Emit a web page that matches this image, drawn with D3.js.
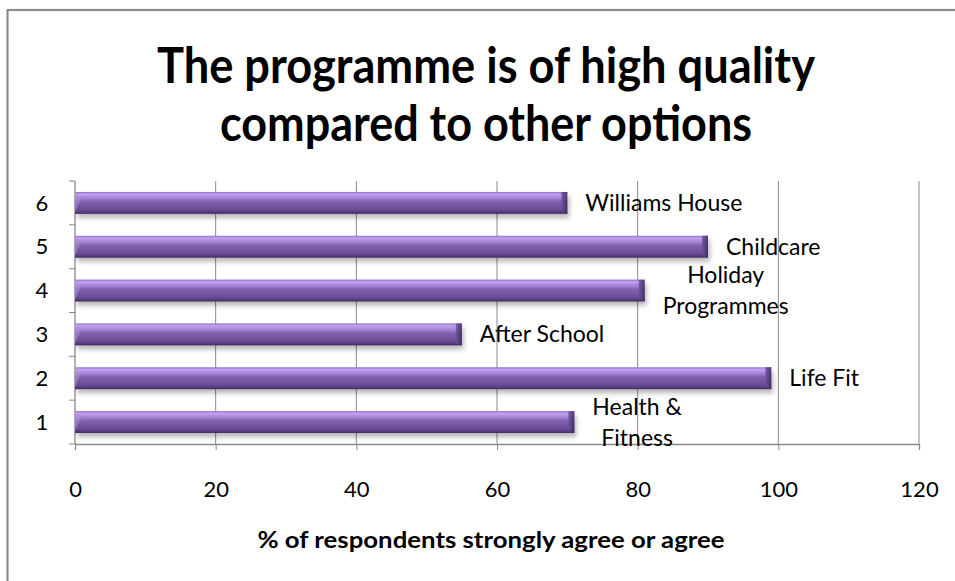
<!DOCTYPE html>
<html>
<head>
<meta charset="utf-8">
<script src="https://cdn.jsdelivr.net/npm/d3@7"></script>
<style>
  html, body { margin: 0; padding: 0; background: #fff; }
  svg { display: block; }
</style>
</head>
<body>
<script>
// ---- data ----
const categories = ["1", "2", "3", "4", "5", "6"];
const values = [71, 99, 55, 81, 90, 70];
const labelLines = [
  ["Health &", "Fitness"],
  ["Life Fit"],
  ["After School"],
  ["Holiday", "Programmes"],
  ["Childcare"],
  ["Williams House"]
];
const xTicks = [0, 20, 40, 60, 80, 100, 120];
const titleLines = ["The programme is of high quality", "compared to other options"];
const xAxisTitle = "% of respondents strongly agree or agree";

// ---- layout ----
const W = 955, H = 581;
const plot = { left: 75, right: 919, top: 181, bottom: 444 };
const FONT = "Lato, 'Open Sans', sans-serif";

const svg = d3.select("body").append("svg").attr("width", W).attr("height", H);

const defs = svg.append("defs");
const grad = defs.append("linearGradient").attr("id", "barGrad")
  .attr("x1", 0).attr("y1", 0).attr("x2", 0).attr("y2", 1);
[[0, "#8e6cc0"], [0.1, "#c3a2f2"], [0.28, "#a283d4"], [0.45, "#8060ae"],
 [0.8, "#6b4d96"], [0.92, "#553b7c"], [1, "#3f2b5e"]].forEach(([o, c]) =>
  grad.append("stop").attr("offset", o).attr("stop-color", c));
const capGrad = defs.append("linearGradient").attr("id", "capGrad")
  .attr("x1", 0).attr("y1", 0).attr("x2", 1).attr("y2", 0);
[[0, "#6f53a0"], [1, "#3b2858"]].forEach(([o, c]) =>
  capGrad.append("stop").attr("offset", o).attr("stop-color", c));
const shadow = defs.append("filter").attr("id", "shadow")
  .attr("x", "-5%").attr("y", "-30%").attr("width", "115%").attr("height", "190%");
shadow.append("feDropShadow").attr("dx", 2).attr("dy", 4)
  .attr("stdDeviation", 2.5).attr("flood-color", "#000").attr("flood-opacity", 0.28);

// outer frame (extends past the canvas on right and bottom)
svg.append("rect").attr("x", 7.5).attr("y", 10).attr("width", W + 20).attr("height", H + 20)
  .attr("fill", "none").attr("stroke", "#8c8c8c").attr("stroke-width", 2.2);

// ---- scales ----
const x = d3.scaleLinear().domain([0, 120]).range([plot.left, plot.right]);
const y = d3.scaleBand().domain(categories).range([plot.bottom, plot.top])
  .paddingInner(0.5).paddingOuter(0.25);
const yEdge = d3.scaleLinear().domain([0, categories.length]).range([plot.bottom, plot.top]);

// ---- gridlines ----
svg.append("g").selectAll("line").data(xTicks.filter(d => d > 0)).join("line")
  .attr("x1", d => x(d)).attr("x2", d => x(d))
  .attr("y1", plot.top).attr("y2", plot.bottom)
  .attr("stroke", "#8a8a8a").attr("stroke-width", 1);

// ---- x axis ----
const xAxis = svg.append("g").attr("transform", `translate(0,${plot.bottom})`)
  .call(d3.axisBottom(x).tickValues(xTicks).tickSize(6).tickPadding(31));
xAxis.select(".domain").attr("stroke", "#8a8a8a").attr("stroke-width", 1.3);
xAxis.selectAll(".tick line").attr("stroke", "#8a8a8a");
xAxis.selectAll(".tick text").attr("font-family", FONT).attr("font-size", 22)
  .attr("fill", "#000");

// ---- y axis (ticks at category boundaries) ----
svg.append("line").attr("x1", plot.left).attr("x2", plot.left)
  .attr("y1", plot.top).attr("y2", plot.bottom)
  .attr("stroke", "#8a8a8a").attr("stroke-width", 1.3);
svg.append("g").selectAll("line").data(d3.range(categories.length + 1)).join("line")
  .attr("x1", plot.left - 6).attr("x2", plot.left)
  .attr("y1", d => yEdge(d)).attr("y2", d => yEdge(d))
  .attr("stroke", "#8a8a8a");
svg.append("g").selectAll("text").data(categories).join("text")
  .attr("x", 42).attr("y", d => y(d) + y.bandwidth() / 2)
  .attr("dy", "0.35em").attr("text-anchor", "middle")
  .attr("font-family", FONT).attr("font-size", 22).attr("fill", "#000")
  .text(d => d);

// ---- bars ----
const data = categories.map((c, i) => ({ c, v: values[i], lines: labelLines[i] }));
const bars = svg.append("g").selectAll("g").data(data).join("g");
bars.append("rect")
  .attr("x", x(0)).attr("y", d => y(d.c))
  .attr("width", d => x(d.v) - x(0)).attr("height", y.bandwidth())
  .attr("fill", "url(#barGrad)").attr("filter", "url(#shadow)");
// right-end bevel
bars.append("path")
  .attr("d", d => {
    const x1 = x(d.v), y0 = y(d.c), y1 = y0 + y.bandwidth(), b = 6;
    return `M${x1 - b},${y0} L${x1},${y0} L${x1},${y1} L${x1 - b},${y1 - b / 2} Z`;
  })
  .attr("fill", "url(#capGrad)").attr("opacity", 0.85);
// left-end bevel highlight
bars.append("path")
  .attr("d", d => {
    const x0 = x(0), y0 = y(d.c), b = 6;
    return `M${x0},${y0 + 2} L${x0 + b},${y0 + b} L${x0},${y0 + y.bandwidth() - 2} Z`;
  })
  .attr("fill", "#b08fe0").attr("opacity", 0.55);

// ---- data labels ----
const lineGap = 31;
bars.each(function (d) {
  const g = d3.select(this);
  const cy = y(d.c) + y.bandwidth() / 2;
  const t = g.append("text").attr("font-family", FONT).attr("font-size", 23)
    .attr("fill", "#000");
  const n = d.lines.length;
  const spans = d.lines.map((line, k) =>
    t.append("tspan").attr("y", cy + (k - (n - 1) / 2) * lineGap).attr("dy", "0.35em").text(line));
  const widths = spans.map(s => s.node().getComputedTextLength());
  const maxW = d3.max(widths);
  const cx = x(d.v) + 18 + maxW / 2;
  spans.forEach(s => s.attr("x", cx).attr("text-anchor", "middle"));
});

// ---- title ----
const titleWidths = [658, 532];
titleLines.forEach((line, i) => {
  svg.append("text").attr("x", 486).attr("y", 83 + i * 58)
    .attr("text-anchor", "middle").attr("font-family", FONT)
    .attr("font-weight", "bold").attr("font-size", 50).attr("fill", "#000")
    .attr("textLength", titleWidths[i]).attr("lengthAdjust", "spacingAndGlyphs")
    .text(line);
});

// ---- x axis title ----
svg.append("text").attr("x", 491).attr("y", 548)
  .attr("text-anchor", "middle").attr("font-family", FONT)
  .attr("font-weight", "bold").attr("font-size", 22).attr("fill", "#000")
  .attr("textLength", 467).attr("lengthAdjust", "spacingAndGlyphs")
  .text(xAxisTitle);
</script>
</body>
</html>
